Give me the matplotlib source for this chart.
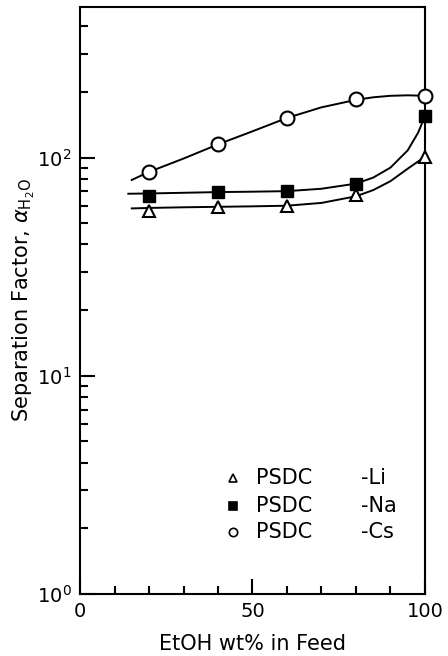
import math
import matplotlib
matplotlib.use("Agg")
import matplotlib.pyplot as plt
from matplotlib.ticker import FixedLocator, LogLocator, NullFormatter, FuncFormatter

plt.rcParams["font.family"] = ["DejaVu Sans"]
plt.rcParams["mathtext.fontset"] = "dejavusans"

# measured points
feed = [20, 40, 60, 80, 100]
li_pts = [57, 59.5, 60, 67.5, 101]
na_pts = [67, 69.5, 70, 76, 155]
cs_pts = [86, 115, 152, 186, 191]

# hand-drawn curves
li_cx = [15, 20, 30, 40, 50, 60, 70, 80, 85, 90, 95, 98, 100]
li_cy = [58.5, 58.8, 59.2, 59.5, 59.8, 60.2, 62, 66.5, 71, 78, 89, 96, 101]
na_cx = [14, 20, 30, 40, 50, 60, 70, 80, 85, 90, 95, 98, 100]
na_cy = [68.3, 68.5, 69, 69.5, 69.8, 70.2, 72, 76, 81, 90, 108, 130, 155]
cs_cx = [15, 20, 30, 40, 50, 60, 70, 80, 85, 90, 95, 100]
cs_cy = [79, 86, 99, 115, 132, 152, 170, 184, 189, 192, 193, 192]

fig = plt.figure(figsize=(4.48, 6.56), dpi=100)
ax = fig.add_axes([0.1786, 0.0945, 0.77, 0.8948])

ax.plot(li_cx, li_cy, color="black", lw=1.4)
ax.plot(na_cx, na_cy, color="black", lw=1.4)
ax.plot(cs_cx, cs_cy, color="black", lw=1.4)

ax.plot(feed, li_pts, ls="none", marker="^", ms=8, mfc="white", mec="black", mew=1.5, clip_on=False, zorder=3)
ax.plot(feed, na_pts, ls="none", marker="s", ms=9, mfc="black", mec="black", clip_on=False, zorder=3)
ax.plot(feed, cs_pts, ls="none", marker="o", ms=10, mfc="white", mec="black", mew=1.5, clip_on=False, zorder=3)

ax.set_yscale("log")
ax.set_xlim(0, 100)
ax.set_ylim(1, 490)

ax.xaxis.set_major_locator(FixedLocator([0, 50, 100]))
ax.xaxis.set_minor_locator(FixedLocator([10, 20, 30, 40, 60, 70, 80, 90]))
ax.yaxis.set_major_locator(LogLocator(base=10, numticks=5))
ax.yaxis.set_minor_locator(LogLocator(base=10, subs=range(2, 10), numticks=20))
ax.yaxis.set_minor_formatter(NullFormatter())
ax.yaxis.set_major_formatter(FuncFormatter(lambda v, p: r"$\mathregular{10^{%d}}$" % round(math.log10(v))))

ax.tick_params(which="both", direction="in", top=False, right=False, width=1.5, labelsize=14)
ax.tick_params(which="major", length=11, pad=6)
ax.tick_params(which="minor", length=6)
for s in ax.spines.values():
    s.set_linewidth(1.5)

ax.set_xlabel("EtOH wt% in Feed", fontsize=15, labelpad=9)
ax.set_ylabel(r"Separation Factor, $\alpha_{\mathrm{H_2O}}$", fontsize=15)
ax.yaxis.set_label_coords(-0.125, 0.5)

# legend drawn by hand
leg_marks = ["^", "s", "o"]
leg_fill = ["white", "black", "white"]
leg_ion = ["-Li", "-Na", "-Cs"]
leg_y = [0.198, 0.150, 0.106]
for m, f, ion, yy in zip(leg_marks, leg_fill, leg_ion, leg_y):
    ax.plot([0.443], [yy], transform=ax.transAxes, marker=m, ms=6, mfc=f, mec="black", mew=1.2, ls="none")
    ax.text(0.51, yy, "PSDC", transform=ax.transAxes, fontsize=15, va="center")
    ax.text(0.815, yy, ion, transform=ax.transAxes, fontsize=15, va="center")

plt.savefig("out.png", dpi=100)
